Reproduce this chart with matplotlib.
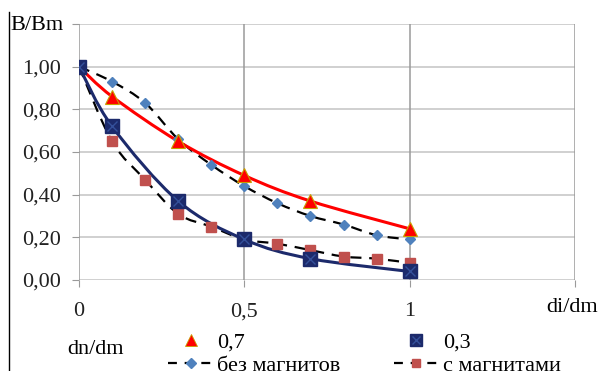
import numpy as np
import matplotlib
matplotlib.use("Agg")
import matplotlib.pyplot as plt
from matplotlib.path import Path
from matplotlib.patches import PathPatch
from matplotlib.lines import Line2D

plt.rcParams['font.family'] = ['Liberation Serif', 'DejaVu Serif']

# data
x_07 = [0, 0.1, 0.3, 0.5, 0.7, 1.0]
y_07 = [1.00, 0.86, 0.65, 0.49, 0.37, 0.24]

x_03 = [0, 0.1, 0.3, 0.5, 0.7, 1.0]
y_03 = [1.00, 0.72, 0.37, 0.19, 0.10, 0.04]

x_dashed = [0, 0.1, 0.2, 0.3, 0.4, 0.5, 0.6, 0.7, 0.8, 0.9, 1.0]
y_no_mag = [1.00, 0.93, 0.83, 0.66, 0.54, 0.44, 0.36, 0.30, 0.26, 0.21, 0.19]
y_mag = [1.00, 0.65, 0.47, 0.31, 0.25, 0.19, 0.17, 0.14, 0.11, 0.10, 0.08]

x_ticks = [0, 0.5, 1, 1.5]
x_tick_labels = ['0', '0,5', '1', '']
y_ticks = [0, 0.2, 0.4, 0.6, 0.8, 1.0, 1.2]
y_tick_labels = ['0,00', '0,20', '0,40', '0,60', '0,80', '1,00', '']

labels = ['0,7', '0,3', 'без магнитов', 'с магнитами']

RED = '#ff0000'
NAVY = '#1c2a6b'
DIAM = '#4f81bd'
MAGSQ = '#c0504d'
FS = 16


def smooth_path(xs, ys):
    """Excel-like smoothed line: Catmull-Rom through points as cubic Beziers."""
    p = np.column_stack([xs, ys]).astype(float)
    n = len(p)
    verts = [p[0]]
    codes = [Path.MOVETO]
    for i in range(n - 1):
        p0 = p[i - 1] if i > 0 else p[i]
        p1, p2 = p[i], p[i + 1]
        p3 = p[i + 2] if i + 2 < n else p[i + 1]
        c1 = p1 + (p2 - p0) / 6.0
        c2 = p2 - (p3 - p1) / 6.0
        verts += [c1, c2, p2]
        codes += [Path.CURVE4] * 3
    return Path(verts, codes)


fig = plt.figure(figsize=(6.03, 3.71), dpi=100)
ax = fig.add_axes([79 / 603, 1 - 280 / 371, (575 - 79) / 603, (280 - 24) / 371])

ax.set_xlim(0, 1.5)
ax.set_ylim(0, 1.2)
for s in ax.spines.values():
    s.set_visible(False)

for yv in y_ticks:
    ax.axhline(yv, color='#c4c4c4', lw=1.1, zorder=0)
for xv in x_ticks:
    ax.axvline(xv, color='#9a9a9a', lw=1.1, zorder=0)

ax.set_xticks(x_ticks)
ax.set_xticklabels(x_tick_labels)
ax.set_yticks(y_ticks)
ax.set_yticklabels(y_tick_labels)
ax.tick_params(axis='both', direction='out', length=5, color='#9a9a9a',
               labelsize=FS, labelcolor='#222222')
ax.tick_params(axis='y', pad=8)
ax.tick_params(axis='x', pad=11)

# dashed series
for ys, mk, col, ms in [(y_no_mag, 'D', DIAM, 5), (y_mag, 's', MAGSQ, 6.5)]:
    ax.add_patch(PathPatch(smooth_path(x_dashed, ys), fill=False, ec='black',
                           lw=1.6, ls=(0, (5, 3.5)), zorder=2))
    ax.plot(x_dashed, ys, ls='none', marker=mk, ms=ms, mfc=col, mec=col, zorder=4)

# smoothed solid series
ax.add_patch(PathPatch(smooth_path(x_07, y_07), fill=False, ec=RED, lw=2.2, zorder=3))
ax.plot(x_07, y_07, ls='none', marker='^', ms=10, mfc=RED, mec='#c8a000', mew=0.8, zorder=5)

ax.add_patch(PathPatch(smooth_path(x_03, y_03), fill=False, ec=NAVY, lw=2.2, zorder=3))
ax.plot(x_03, y_03, ls='none', marker='s', ms=9.5, mfc=NAVY, mec=NAVY, zorder=5)
ax.plot(x_03, y_03, ls='none', marker='x', ms=7.5, mec='#34509a', mew=1.0, zorder=6)

fig.text(10 / 603, 1 - 26 / 371, 'B/Bm', fontsize=FS, va='center', ha='left')
fig.text(546 / 603, 1 - 307 / 371, 'di/dm', fontsize=FS, va='center', ha='left')
fig.text(67 / 603, 1 - 350 / 371, 'dn/dm', fontsize=FS, va='center', ha='left')

# left border line of the chart area
fig.add_artist(Line2D([9 / 603, 9 / 603], [0, 1 - 12 / 371], color='black', lw=1.0))

h07 = Line2D([], [], ls='none', marker='^', ms=8, mfc=RED, mec='#c8a000', mew=0.6)
h03 = (Line2D([], [], ls='none', marker='s', ms=8, mfc=NAVY, mec=NAVY),
       Line2D([], [], ls='none', marker='x', ms=6, mec='#34509a', mew=1.0))
hno = Line2D([], [], color='black', ls=(0, (4, 3.5)), lw=1.6, marker='D', ms=5, mfc=DIAM, mec=DIAM)
hmg = Line2D([], [], color='black', ls=(0, (4, 3.5)), lw=1.6, marker='s', ms=6, mfc=MAGSQ, mec=MAGSQ)

leg = fig.legend([h07, hno, h03, hmg], [labels[0], labels[2], labels[1], labels[3]],
                 ncol=2, loc='upper left', bbox_to_anchor=(155 / 603, 1 - 319 / 371),
                 frameon=False, fontsize=FS, handlelength=2.0, handletextpad=0.2,
                 columnspacing=2.4, labelspacing=0.1, borderpad=0.1)

fig.savefig('out.png', dpi=100)
